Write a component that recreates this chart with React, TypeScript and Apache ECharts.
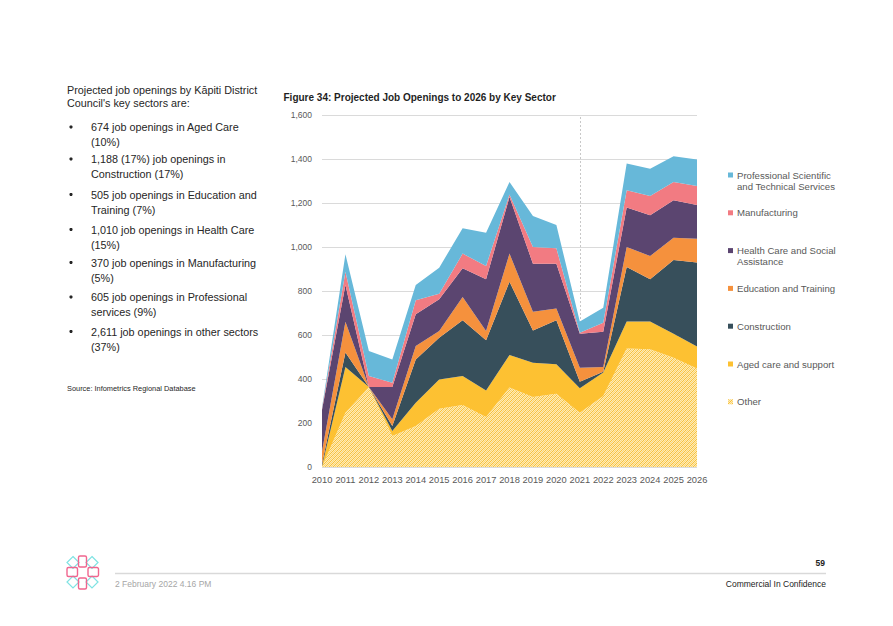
import React, { useEffect, useRef } from "react";
import * as echarts from "echarts";

const years = ["2010","2011","2012","2013","2014","2015","2016","2017","2018","2019","2020","2021","2022","2023","2024","2025","2026"];
const other = [0, 247, 362, 141, 186, 265, 282, 227, 361, 318, 333, 247, 323, 539, 535, 497, 448];
const agedCare = [5, 208, 2, 23, 106, 133, 132, 121, 148, 156, 134, 111, 106, 122, 126, 109, 100];
const construction = [10, 65, 0, 22, 197, 190, 253, 228, 333, 147, 200, 30, 4, 248, 192, 335, 381];
const education = [55, 140, 0, 31, 61, 30, 106, 42, 128, 85, 54, 63, 21, 91, 106, 101, 109];
const health = [190, 167, 0, 147, 144, 144, 130, 235, 257, 218, 203, 155, 161, 179, 185, 170, 153];
const manufacturing = [5, 61, 50, 19, 64, 26, 67, 61, 12, 76, 70, 4, 41, 79, 88, 83, 86];
const professional = [5, 79, 113, 106, 69, 118, 115, 151, 56, 141, 106, 51, 68, 122, 124, 118, 121];

const seriesNames = [
  "Other",
  "Aged care and support",
  "Construction",
  "Education and Training",
  "Health Care and Social Assistance",
  "Manufacturing",
  "Professional Scientific and Technical Services",
];
const legendLabels = [
  "Professional Scientific\nand Technical Services",
  "Manufacturing",
  "Health Care and Social\nAssistance",
  "Education and Training",
  "Construction",
  "Aged care and support",
  "Other",
];
const introLines = ["Projected job openings by Kāpiti District", "Council's key sectors are:"];
const bulletLines = [
  ["674 job openings in Aged Care", "(10%)"],
  ["1,188 (17%) job openings in", "Construction (17%)"],
  ["505 job openings in Education and", "Training (7%)"],
  ["1,010 job openings in Health Care", "(15%)"],
  ["370 job openings in Manufacturing", "(5%)"],
  ["605 job openings in Professional", "services (9%)"],
  ["2,611 job openings in other sectors", "(37%)"],
];
const yTicks = { min: 0, max: 1600, interval: 200 };
const splitYear = "2021";

const FONT = "'Liberation Sans', Arial, sans-serif";
const COLORS = {
  prof: "#67B8D9",
  manuf: "#F27B82",
  health: "#5B4570",
  edu: "#F5913D",
  constr: "#374F5B",
  aged: "#FDC132",
};

function makeHatch(): HTMLCanvasElement {
  const c = document.createElement("canvas");
  c.width = 4;
  c.height = 4;
  const ctx = c.getContext("2d")!;
  ctx.fillStyle = "#FEEBB6";
  ctx.fillRect(0, 0, 4, 4);
  ctx.fillStyle = "#F8C03A";
  for (let i = 0; i < 4; i++) {
    ctx.fillRect(i, 3 - i, 1, 1);
  }
  ctx.fillStyle = "#FBD575";
  for (let i = 0; i < 4; i++) {
    ctx.fillRect((i + 2) % 4, 3 - i, 1, 1);
  }
  return c;
}

export default function App() {
  const ref = useRef<HTMLDivElement>(null);
  useEffect(() => {
    if (!ref.current) return;
    const chart = echarts.init(ref.current, null, { renderer: "svg" });
    const hatch = makeHatch();
    const hatchFill: any = { image: hatch, repeat: "repeat" };

    const values = [other, agedCare, construction, education, health, manufacturing, professional];
    const colors = [hatchFill, COLORS.aged, COLORS.constr, COLORS.edu, COLORS.health, COLORS.manuf, COLORS.prof];

    const series: any[] = values.map((v, i) => ({
      name: seriesNames[i],
      type: "line",
      stack: "total",
      data: v,
      symbol: "none",
      lineStyle: { width: 0 },
      areaStyle: { color: colors[i], opacity: 1 },
      itemStyle: { color: i === 0 ? "#F9D47A" : colors[i] },
      z: 2,
    }));
    series.push({
      type: "line",
      data: [],
      z: 1,
      markLine: {
        silent: true,
        symbol: ["none", "none"],
        label: { show: false },
        lineStyle: { color: "#C8C8C8", type: [2, 2], width: 1 },
        data: [{ xAxis: splitYear }],
        z: 1,
      },
    });

    const legendColors = [COLORS.prof, COLORS.manuf, COLORS.health, COLORS.edu, COLORS.constr, COLORS.aged, hatchFill];
    const graphic: any[] = [];
    legendLabels.forEach((label, i) => {
      const cy = 175 + i * 37.8;
      graphic.push({
        type: "rect",
        shape: { x: 728, y: cy - 2.5, width: 5, height: 5 },
        style: { fill: legendColors[i] },
      });
      graphic.push({
        type: "text",
        x: 737,
        y: cy - 5.5,
        style: {
          text: label,
          font: `9.6px ${FONT}`,
          fill: "#595959",
          lineHeight: 11,
          verticalAlign: "top",
        },
      });
    });

    const introY = [90, 103];
    introLines.forEach((t, i) => {
      graphic.push({
        type: "text",
        x: 67,
        y: introY[i],
        style: { text: t, font: `10.8px ${FONT}`, fill: "#262626", verticalAlign: "middle" },
      });
    });
    const bulletY = [127, 159, 194.5, 229.5, 262.5, 297, 331.5];
    bulletLines.forEach((lines, i) => {
      const y0 = bulletY[i];
      graphic.push({
        type: "circle",
        shape: { cx: 71, cy: y0, r: 1.6 },
        style: { fill: "#262626" },
      });
      lines.forEach((t, j) => {
        graphic.push({
          type: "text",
          x: 91,
          y: y0 + j * 15,
          style: { text: t, font: `10.8px ${FONT}`, fill: "#262626", verticalAlign: "middle" },
        });
      });
    });
    graphic.push({
      type: "text",
      x: 67,
      y: 388.5,
      style: { text: "Source: Infometrics Regional Database", font: `7.4px ${FONT}`, fill: "#262626", verticalAlign: "middle" },
    });
    graphic.push({
      type: "text",
      x: 283.5,
      y: 97,
      style: { text: "Figure 34: Projected Job Openings to 2026 by Key Sector", font: `bold 10px ${FONT}`, fill: "#1F1F1F", verticalAlign: "middle" },
    });

    graphic.push({
      type: "line",
      shape: { x1: 115, y1: 573.5, x2: 826, y2: 573.5 },
      style: { stroke: "#D9D9D9", lineWidth: 1.5 },
    });
    graphic.push({
      type: "text",
      x: 115,
      y: 583.5,
      style: { text: "2 February 2022 4.16 PM", font: `8.5px ${FONT}`, fill: "#A6A6A6", verticalAlign: "middle" },
    });
    graphic.push({
      type: "text",
      x: 826,
      y: 583.5,
      style: { text: "Commercial In Confidence", font: `8.5px ${FONT}`, fill: "#222222", verticalAlign: "middle", align: "right" },
    });
    graphic.push({
      type: "text",
      x: 825,
      y: 563,
      style: { text: "59", font: `bold 8.5px ${FONT}`, fill: "#222222", verticalAlign: "middle", align: "right" },
    });
    const pink = "#F0668F";
    const cyan = "#7FE3E3";
    const diamonds = [
      [73, 562.5],
      [92, 562.5],
      [73, 582],
      [92, 582],
    ];
    diamonds.forEach(([cx, cy]) => {
      graphic.push({
        type: "polygon",
        shape: { points: [[cx, cy - 6], [cx + 6, cy], [cx, cy + 6], [cx - 6, cy]] },
        style: { fill: "none", stroke: cyan, lineWidth: 1.2 },
      });
    });
    const pinkRects = [
      [78.5, 556, 8, 11],
      [67, 567.5, 10.5, 9],
      [88, 567.5, 10.5, 9],
      [78.5, 578, 8, 11],
    ];
    pinkRects.forEach(([x, y, w, h]) => {
      graphic.push({
        type: "rect",
        shape: { x, y, width: w, height: h, r: 1.5 },
        style: { fill: "none", stroke: pink, lineWidth: 1.4 },
      });
    });

    chart.setOption({
      animation: false,
      backgroundColor: "#ffffff",
      textStyle: { fontFamily: FONT },
      grid: { left: 322, right: 196, top: 115, bottom: 159, containLabel: false },
      xAxis: {
        type: "category",
        data: years,
        boundaryGap: false,
        axisLine: { show: false },
        axisTick: { show: false },
        axisLabel: { color: "#595959", fontSize: 9.3, margin: 8, fontFamily: FONT, interval: 0 },
        splitLine: { show: false },
      },
      yAxis: {
        type: "value",
        min: yTicks.min,
        max: yTicks.max,
        interval: yTicks.interval,
        axisLine: { show: false },
        axisTick: { show: false },
        axisLabel: {
          color: "#595959",
          fontSize: 8.5,
          margin: 10,
          fontFamily: FONT,
          formatter: (v: number) => v.toLocaleString("en-US"),
        },
        splitLine: { lineStyle: { color: "#DADADA", width: 1 } },
      },
      series,
      graphic,
    });
    return () => chart.dispose();
  }, []);
  return (
    <div
      ref={ref}
      style={{ position: "fixed", left: 0, top: 0, width: 893, height: 626, background: "#fff" }}
    />
  );
}
